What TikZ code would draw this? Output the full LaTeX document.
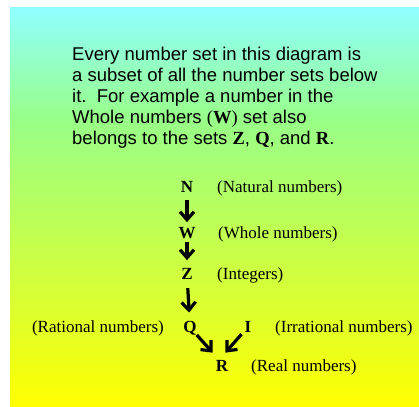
\documentclass[tikz,border=0pt]{standalone}
\usepackage{fontspec}
\setmainfont{Liberation Serif}
\newfontfamily\arialfont{Liberation Sans}
\usetikzlibrary{arrows.meta}
\definecolor{fadetop}{RGB}{144,255,255}
\definecolor{fademid}{RGB}{152,255,136}
\definecolor{fadebot}{RGB}{255,255,0}
\pgfdeclareverticalshading{numfade}{100bp}{color(0bp)=(fadebot); color(25bp)=(fadebot); color(61bp)=(fademid); color(75bp)=(fadetop); color(100bp)=(fadetop)}

\begin{document}
\begin{tikzpicture}[x=1pt,y=1pt,
  setname/.style={inner sep=0pt, anchor=base, font=\fontsize{17}{20}\selectfont\bfseries},
  setlabel/.style={inner sep=0pt, font=\fontsize{17}{20}\selectfont},
  subarrow/.style={line width=3.2pt, -{Straight Barb[length=8pt,width=14pt]}}]
\useasboundingbox (0,0) rectangle (419,406);
\shade[shading=numfade] (10,0) rectangle (419,398);
\node[anchor=north west, inner sep=0pt, align=left, font=\arialfont\fontsize{18.5}{21}\selectfont] (intro) at (72,359)
  {Every number set in this diagram is\\
   a subset of all the number sets below\\
   it.\ \ For example a number in the\\
   Whole numbers {\rmfamily(\textbf{W})} set also\\
   belongs to the sets {\rmfamily\bfseries Z}, {\rmfamily\bfseries Q}, and {\rmfamily\bfseries R}.};
% the sets
\node[setname] (n) at (187,213) {N};
\node[setname] (w) at (187,167) {W};
\node[setname] (z) at (187,126) {Z};
\node[setname] (q) at (190,74) {Q};
\node[setname] (i) at (248,74) {I};
\node[setname] (r) at (222,35) {R};
% their names
\node[setlabel, anchor=base west] (nname) at (217,213) {(Natural numbers)};
\node[setlabel, anchor=base west] (wname) at (218,167) {(Whole numbers)};
\node[setlabel, anchor=base west] (zname) at (217,126) {(Integers)};
\node[setlabel, anchor=base east] (qname) at (164,74) {(Rational numbers)};
\node[setlabel, anchor=base west] (iname) at (275,74) {(Irrational numbers)};
\node[setlabel, anchor=base west] (rname) at (251,35) {(Real numbers)};
% subset arrows
\draw[subarrow, shorten <=7pt, shorten >=5.5pt] (n) -- (w);
\draw[subarrow, shorten <=3pt, shorten >=8.5pt] (w) -- (z);
\draw[subarrow, shorten <=8pt, shorten >=8pt] (z) -- (q);
\draw[subarrow] (q.south east) -- ([xshift=-3pt,yshift=7pt]r.north west);
\draw[subarrow] ([xshift=-3pt,yshift=-2pt]i.south west) -- ([xshift=-3pt,yshift=7pt]r.north east);
\end{tikzpicture}
\end{document}
